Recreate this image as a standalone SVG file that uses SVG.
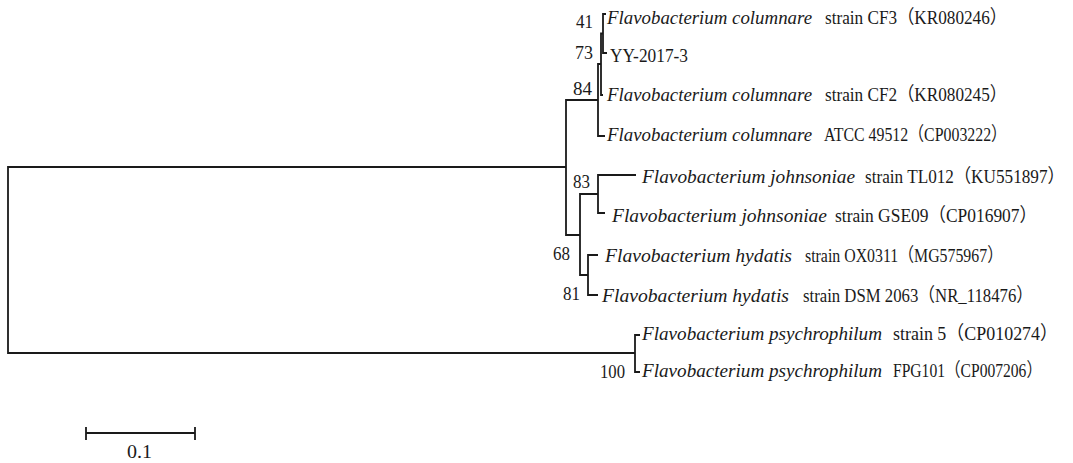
<svg xmlns="http://www.w3.org/2000/svg" width="1073" height="463" viewBox="0 0 1073 463">
<style>
text { font-family: "Liberation Serif", "Noto Sans CJK SC", serif; font-size: 19px; fill: #1a1a1a; }
.it { font-style: italic; }
.br { stroke: #1a1a1a; stroke-width: 1.8; fill: none; stroke-linejoin: miter; stroke-linecap: butt; }
</style>
<rect width="1073" height="463" fill="#ffffff"/>
<g id="connectors">
<path class="br" d="M566,167 H8 V353 H635"/>
<path class="br" d="M598,100 H566 V235 H580"/>
<path class="br" d="M601,64 H598 V136 H605"/>
<path class="br" d="M603,33.5 H601 V95 H603"/>
<path class="br" d="M606,14 H603 V53 H607"/>
<path class="br" d="M598,194 H580 V275 H588"/>
<path class="br" d="M636,175 H598 V213 H605"/>
<path class="br" d="M598,255 H588 V295 H598"/>
<path class="br" d="M640,335 H635 V372 H640"/>
</g>
<g id="leaf-cf3"><text class="it" x="607" y="24" textLength="205" lengthAdjust="spacingAndGlyphs">Flavobacterium columnare</text><text x="825" y="24" textLength="182" lengthAdjust="spacingAndGlyphs">strain CF3（KR080246）</text></g>
<g id="leaf-yy"><text x="610" y="62" textLength="78" lengthAdjust="spacingAndGlyphs">YY-2017-3</text></g>
<g id="leaf-cf2"><text class="it" x="607" y="101" textLength="205" lengthAdjust="spacingAndGlyphs">Flavobacterium columnare</text><text x="825" y="101" textLength="182" lengthAdjust="spacingAndGlyphs">strain CF2（KR080245）</text></g>
<g id="leaf-atcc"><text class="it" x="607" y="141" textLength="205" lengthAdjust="spacingAndGlyphs">Flavobacterium columnare</text><text x="824" y="141" textLength="183" lengthAdjust="spacingAndGlyphs">ATCC 49512（CP003222）</text></g>
<g id="leaf-tl012"><text class="it" x="642" y="183" textLength="213" lengthAdjust="spacingAndGlyphs">Flavobacterium johnsoniae</text><text transform="translate(865,183) scale(0.905,1)" x="0" y="0">strain TL012（KU551897）</text></g>
<g id="leaf-gse09"><text class="it" x="612" y="222" textLength="215" lengthAdjust="spacingAndGlyphs">Flavobacterium johnsoniae</text><text x="835" y="222" textLength="202" lengthAdjust="spacingAndGlyphs">strain GSE09（CP016907）</text></g>
<g id="leaf-ox0311"><text class="it" x="605" y="262" textLength="187" lengthAdjust="spacingAndGlyphs">Flavobacterium hydatis</text><text x="805" y="262" textLength="198" lengthAdjust="spacingAndGlyphs">strain OX0311（MG575967）</text></g>
<g id="leaf-dsm2063"><text class="it" x="602" y="302" textLength="187" lengthAdjust="spacingAndGlyphs">Flavobacterium hydatis</text><text x="803" y="302" textLength="230" lengthAdjust="spacingAndGlyphs">strain DSM 2063（NR_118476）</text></g>
<g id="leaf-strain5"><text class="it" x="642" y="340" textLength="240" lengthAdjust="spacingAndGlyphs">Flavobacterium psychrophilum</text><text x="893" y="340" textLength="165" lengthAdjust="spacingAndGlyphs">strain 5（CP010274）</text></g>
<g id="leaf-fpg101"><text class="it" x="642" y="377" textLength="240" lengthAdjust="spacingAndGlyphs">Flavobacterium psychrophilum</text><text x="893" y="377" textLength="149" lengthAdjust="spacingAndGlyphs">FPG101（CP007206）</text></g>
<g id="node-41"><text x="576" y="28" textLength="17" lengthAdjust="spacingAndGlyphs">41</text></g>
<g id="node-73"><text x="575" y="59" textLength="18" lengthAdjust="spacingAndGlyphs">73</text></g>
<g id="node-84"><text x="573" y="95" textLength="19" lengthAdjust="spacingAndGlyphs">84</text></g>
<g id="node-83"><text x="573" y="188" textLength="17" lengthAdjust="spacingAndGlyphs">83</text></g>
<g id="node-68"><text x="553" y="260" textLength="17" lengthAdjust="spacingAndGlyphs">68</text></g>
<g id="node-81"><text x="563" y="300" textLength="17" lengthAdjust="spacingAndGlyphs">81</text></g>
<g id="node-100"><text x="600" y="378" textLength="25" lengthAdjust="spacingAndGlyphs">100</text></g>
<g id="scale-bar">
<path class="br" d="M86,433 H195 M86,427 V440 M195,427 V440"/>
<text x="127" y="458" textLength="25" lengthAdjust="spacingAndGlyphs">0.1</text>
</g>
</svg>
